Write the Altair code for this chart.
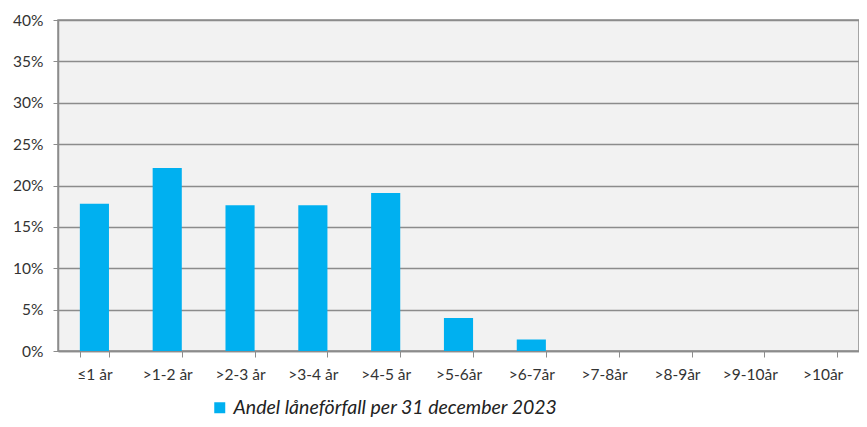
import altair as alt
import pandas as pd

categories = ["≤1 år", ">1-2 år", ">2-3 år", ">3-4 år", ">4-5 år", ">5-6år",
              ">6-7år", ">7-8år", ">8-9år", ">9-10år", ">10år"]
values = [0.178, 0.221, 0.176, 0.176, 0.191, 0.040, 0.014, 0.0, 0.0, 0.0, 0.0]
series = "Andel låneförfall per 31 december 2023"

df = pd.DataFrame({"cat": categories, "val": values, "series": [series] * len(categories)})

FONT = "Lato"
GRAY = "#8c8c8c"

chart = alt.Chart(df).mark_bar(color="#00b0f0").encode(
    x=alt.X("cat:N", sort=categories, title=None,
            scale=alt.Scale(paddingInner=0.6, paddingOuter=0.3),
            axis=alt.Axis(labelAngle=0, tickBand="extent", ticks=True, tickSize=6,
                          tickColor=GRAY, domainColor=GRAY, domainWidth=1.5,
                          labelPadding=10, labelFontSize=15.5, labelColor="#333333",
                          labelFont=FONT, grid=False)),
    y=alt.Y("val:Q", title=None,
            scale=alt.Scale(domain=[0, 0.4], nice=False),
            axis=alt.Axis(format=".0%", values=[0, 0.05, 0.1, 0.15, 0.2, 0.25, 0.3, 0.35, 0.4],
                          tickSize=5, tickColor=GRAY, domainColor=GRAY, domainWidth=1.5,
                          gridColor=GRAY, gridWidth=1.5, labelPadding=10,
                          labelFontSize=15.5, labelColor="#333333", labelFont=FONT)),
    color=alt.Color("series:N", title=None,
                    scale=alt.Scale(range=["#00b0f0"]),
                    legend=alt.Legend(orient="none", legendX=152, legendY=378,
                                      symbolType="square", symbolSize=121,
                                      symbolStrokeWidth=0,
                                      labelFontSize=19.5, labelFontStyle="italic",
                                      labelFont=FONT, labelColor="#222222",
                                      labelLimit=700)),
).properties(
    width=801, height=331,
    autosize=alt.AutoSizeParams(type="none"),
    padding={"left": 50, "top": 12, "right": 0, "bottom": 68},
).configure_view(fill="#f2f2f2", stroke=GRAY, strokeWidth=1.5)

chart.save("out.html", embed_options={"renderer": "svg", "actions": False})
